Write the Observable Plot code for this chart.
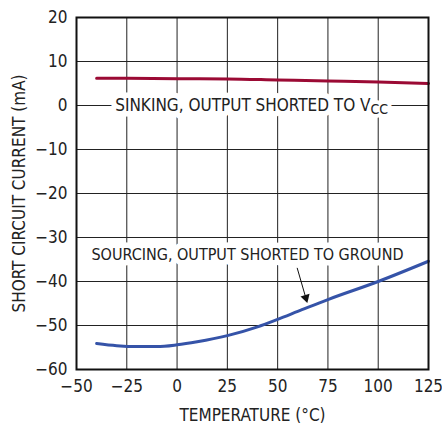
<!DOCTYPE html>
<html>
<head>
<meta charset="utf-8">
<script src="https://cdn.jsdelivr.net/npm/d3@7"></script>
<script src="https://cdn.jsdelivr.net/npm/@observablehq/plot@0.6"></script>
<style>
  html, body { margin: 0; padding: 0; background: #fff; }
  svg { font-family: "Liberation Sans Narrow", "DejaVu Sans Condensed", "Roboto", sans-serif; font-stretch: condensed; }
</style>
</head>
<body>
<div id="chart"></div>
<script>
// Temperature axis (°C)
const xTicks = [-50, -25, 0, 25, 50, 75, 100, 125];
const yTicks = [-60, -50, -40, -30, -20, -10, 0, 10, 20];

// Sinking, output shorted to VCC (mA)
const sinkTemp = [-40, -25, 0, 25, 50, 75, 100, 125];
const sinkCurrent = [6.2, 6.2, 6.1, 6.05, 5.8, 5.55, 5.35, 5.0];

// Sourcing, output shorted to ground (mA)
const srcTemp = [-40, -30, -20, -10, 0, 10, 25, 40, 50, 60, 75, 100, 125];
const srcCurrent = [-54.1, -54.6, -54.8, -54.8, -54.4, -53.7, -52.3, -50.3, -48.6, -46.8, -44.1, -40.0, -35.4];

// Annotation labels
const sinkLabel = {x: 96.2, y: 0, text: "SINKING, OUTPUT SHORTED TO V", sub: "CC"};
const srcLabel = {x: 35, y: -34, text: "SOURCING, OUTPUT SHORTED TO GROUND"};
const arrowLine = {x1: 59.7, y1: -36.9, x2: 64.0, y2: -43.7};
const arrowHead = {x: 64.0, y: -43.7};

const sink = sinkTemp.map((t, i) => ({t, v: sinkCurrent[i]}));
const src = srcTemp.map((t, i) => ({t, v: srcCurrent[i]}));

const font = "\"Liberation Sans Narrow\", \"DejaVu Sans Condensed\", Roboto, sans-serif";

const chart = Plot.plot({
  width: 442,
  height: 428,
  marginLeft: 76,
  marginRight: 14,
  marginTop: 17,
  marginBottom: 59,
  style: {fontSize: "17px", fontFamily: font, color: "#222", background: "#fff"},
  x: {domain: [-50, 125], ticks: xTicks, tickSize: 0, tickPadding: 10, label: "TEMPERATURE (°C)", labelArrow: "none", labelAnchor: "center", labelOffset: 51},
  y: {domain: [-60, 20], ticks: yTicks, tickSize: 0, tickPadding: 9, label: "SHORT CIRCUIT CURRENT (mA)", labelArrow: "none", labelAnchor: "center", labelOffset: 64},
  marks: [
    Plot.gridX(xTicks, {stroke: "#222", strokeOpacity: 1, strokeWidth: 1}),
    Plot.gridY(yTicks, {stroke: "#222", strokeOpacity: 1, strokeWidth: 1}),
    Plot.text([sinkLabel], {x: "x", y: "y", text: "text", textAnchor: "end", fill: "#222", stroke: "white", strokeWidth: 11, fontSize: 17}),
    Plot.text([sinkLabel], {x: "x", y: "y", text: "sub", textAnchor: "start", dy: 4, fill: "#222", stroke: "white", strokeWidth: 8, fontSize: 14}),
    Plot.text([srcLabel], {x: "x", y: "y", text: "text", textAnchor: "middle", fill: "#222", stroke: "white", strokeWidth: 11, fontSize: 16}),
    Plot.link([arrowLine], {x1: "x1", y1: "y1", x2: "x2", y2: "y2", stroke: "#111", strokeWidth: 1}),
    Plot.dot([arrowHead], {x: "x", y: "y", symbol: "triangle", r: 3.5, fill: "#111", stroke: "none", rotate: 164}),
    Plot.line(sink, {x: "t", y: "v", stroke: "#9b0a34", strokeWidth: 3, curve: "monotone-x"}),
    Plot.line(src, {x: "t", y: "v", stroke: "#3553a8", strokeWidth: 3, curve: "monotone-x"}),
    Plot.frame({stroke: "#111", strokeWidth: 2})
  ]
});
document.getElementById("chart").appendChild(chart);
</script>
</body>
</html>
